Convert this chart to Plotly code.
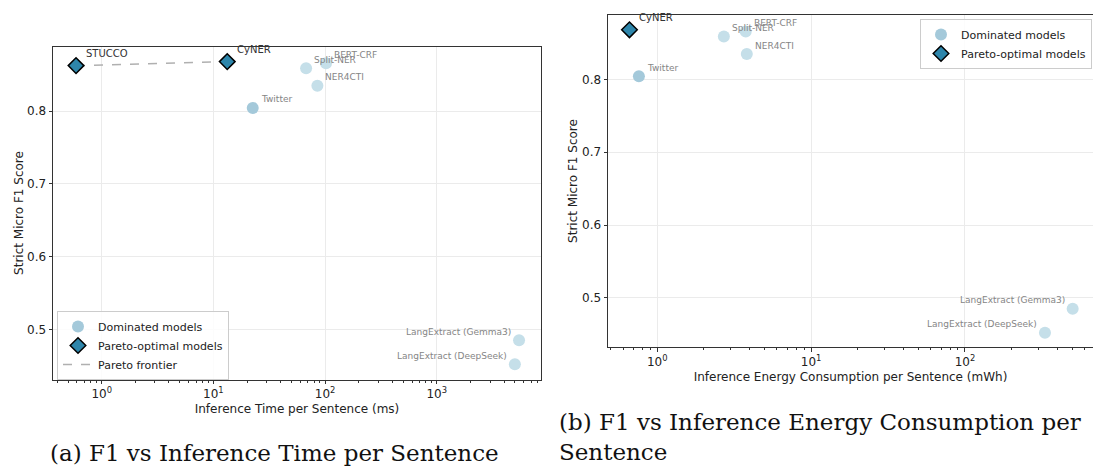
import numpy as np
import plotly.graph_objects as go

W, H = 1093, 466

# ---- data: F1 vs inference time (ms) ----
pareto_time_names = ["STUCCO", "CyNER"]
pareto_time_ms = [0.589, 13.3]
pareto_time_f1 = [0.8627, 0.8682]

dom_time_names = ["Twitter", "Split-NER", "BERT-CRF", "NER4CTI",
                  "LangExtract (Gemma3)", "LangExtract (DeepSeek)"]
dom_time_ms = [22.5, 67.6, 102.0, 85.3, 5450.0, 5000.0]
dom_time_f1 = [0.8045, 0.859, 0.866, 0.835, 0.485, 0.452]

# ---- data: F1 vs inference energy (mWh) ----
pareto_energy_names = ["CyNER"]
pareto_energy_mwh = [0.66]
pareto_energy_f1 = [0.8682]

dom_energy_names = ["Twitter", "Split-NER", "BERT-CRF", "NER4CTI",
                    "LangExtract (Gemma3)", "LangExtract (DeepSeek)"]
dom_energy_mwh = [0.76, 2.71, 3.76, 3.82, 501.0, 331.0]
dom_energy_f1 = [0.8045, 0.859, 0.866, 0.835, 0.485, 0.452]

# names drawn to the left of their marker
left_side_labels = {"LangExtract (Gemma3)", "LangExtract (DeepSeek)"}

# ---- styling ----
DOM_COLOR = "#c5dfe9"
DOM_STRONG = "#a4c9da"
PARETO_COLOR = "#2e86ab"
GRID = "#ebebeb"
SPINE = "#333333"
FONT = "DejaVu Sans"
AXIS_FONT = 12


def px_x(p):
    return p / W


def px_y(p):
    return 1 - p / H


fig = go.Figure()


def dom_colors(names):
    return [DOM_STRONG if n == "Twitter" else DOM_COLOR for n in names]


# left panel traces
fig.add_trace(go.Scatter(
    x=pareto_time_ms, y=pareto_time_f1, mode="lines",
    line=dict(color="#b0b0b0", width=1.5, dash="dash"),
    name="Pareto frontier", legend="legend", legendrank=3,
    xaxis="x", yaxis="y", hoverinfo="skip"))
fig.add_trace(go.Scatter(
    x=dom_time_ms, y=dom_time_f1, mode="markers", text=dom_time_names,
    marker=dict(size=12, color=dom_colors(dom_time_names), line=dict(width=0)),
    name="Dominated models", legend="legend", legendrank=1,
    xaxis="x", yaxis="y"))
fig.add_trace(go.Scatter(
    x=pareto_time_ms, y=pareto_time_f1, mode="markers", text=pareto_time_names,
    marker=dict(size=12, symbol="diamond", color=PARETO_COLOR,
                line=dict(width=1.5, color="black")),
    name="Pareto-optimal models", legend="legend", legendrank=2,
    xaxis="x", yaxis="y"))

# right panel traces
fig.add_trace(go.Scatter(
    x=dom_energy_mwh, y=dom_energy_f1, mode="markers", text=dom_energy_names,
    marker=dict(size=12, color=dom_colors(dom_energy_names), line=dict(width=0)),
    name="Dominated models", legend="legend2", legendrank=1,
    xaxis="x2", yaxis="y2"))
fig.add_trace(go.Scatter(
    x=pareto_energy_mwh, y=pareto_energy_f1, mode="markers", text=pareto_energy_names,
    marker=dict(size=12, symbol="diamond", color=PARETO_COLOR,
                line=dict(width=1.5, color="black")),
    name="Pareto-optimal models", legend="legend2", legendrank=2,
    xaxis="x2", yaxis="y2"))

annotations = []


def label_points(names, xs, ys, xref, yref, pareto):
    for n, xv, yv in zip(names, xs, ys):
        left = n in left_side_labels
        if pareto:
            dx, dy, size, color = 8, 12.5, 10, "#333333"
        else:
            dx, dy, size, color = 6, 8.5, 9, "#858585"
        annotations.append(dict(
            x=np.log10(xv), y=yv, xref=xref, yref=yref, text=n,
            showarrow=False, xanchor="right" if left else "left",
            yanchor="middle", xshift=-dx if left else dx, yshift=dy,
            font=dict(family=FONT, size=size, color=color)))


label_points(dom_time_names, dom_time_ms, dom_time_f1, "x", "y", False)
label_points(pareto_time_names, pareto_time_ms, pareto_time_f1, "x", "y", True)
label_points(dom_energy_names, dom_energy_mwh, dom_energy_f1, "x2", "y2", False)
label_points(pareto_energy_names, pareto_energy_mwh, pareto_energy_f1, "x2", "y2", True)

# sub-figure captions
CAPTION_FONT = dict(family="DejaVu Serif", size=23, color="#111111")
annotations.append(dict(
    x=px_x(48), y=px_y(453), xref="paper", yref="paper",
    text="(a) F1 vs Inference Time per Sentence", showarrow=False,
    xanchor="left", yanchor="middle", font=CAPTION_FONT))
annotations.append(dict(
    x=px_x(557), y=px_y(437), xref="paper", yref="paper",
    text="(b) F1 vs Inference Energy Consumption per<br>Sentence", showarrow=False,
    xanchor="left", yanchor="middle", align="left", font=CAPTION_FONT))


def minor_vals(lo, hi):
    vals = []
    for d in range(-2, 5):
        for k in range(2, 10):
            v = k * 10.0 ** d
            if lo <= v <= hi:
                vals.append(v)
    return vals


def log_axis(rng, majors, title, domain, anchor, standoff):
    return dict(
        type="log", range=rng, domain=domain, anchor=anchor,
        tickmode="array", tickvals=[10.0 ** m for m in majors],
        ticktext=[f"10<sup>{m}</sup>" for m in majors],
        ticks="outside", ticklen=3.5, tickwidth=0.8, tickcolor=SPINE,
        minor=dict(tickmode="array",
                   tickvals=minor_vals(10 ** rng[0], 10 ** rng[1]),
                   ticks="outside", ticklen=2, tickwidth=0.6,
                   tickcolor=SPINE, showgrid=False),
        showgrid=True, gridcolor=GRID, gridwidth=0.8,
        showline=True, linecolor=SPINE, linewidth=1,
        zeroline=False,
        tickfont=dict(family=FONT, size=AXIS_FONT, color="#222222"),
        title=dict(text=title, standoff=standoff,
                   font=dict(family=FONT, size=AXIS_FONT, color="#222222")),
    )


def f1_axis(rng, domain, anchor, standoff, mirror):
    return dict(
        range=rng, domain=domain, anchor=anchor,
        tickmode="array", tickvals=[0.5, 0.6, 0.7, 0.8],
        ticktext=["0.5", "0.6", "0.7", "0.8"],
        ticks="outside", ticklen=3.5, tickwidth=0.8, tickcolor=SPINE,
        showgrid=True, gridcolor=GRID, gridwidth=0.8,
        showline=True, linecolor=SPINE, linewidth=1, mirror=mirror,
        zeroline=False,
        tickfont=dict(family=FONT, size=AXIS_FONT, color="#222222"),
        title=dict(text="Strict Micro F1 Score", standoff=standoff,
                   font=dict(family=FONT, size=AXIS_FONT, color="#222222")),
    )


xa1 = log_axis([-0.436, 3.933], [0, 1, 2, 3], "Inference Time per Sentence (ms)",
               [px_x(53), px_x(541)], "y", 4)
xa1["mirror"] = True
xa2 = log_axis([-0.320, 2.832], [0, 1, 2],
               "Inference Energy Consumption per Sentence (mWh)",
               [px_x(608), 1.0], "y2", 4)
xa2["mirror"] = True

fig.update_layout(
    width=W, height=H,
    margin=dict(l=0, r=0, t=0, b=0),
    paper_bgcolor="white", plot_bgcolor="white",
    font=dict(family=FONT, color="#222222"),
    xaxis=xa1,
    yaxis=f1_axis([0.431, 0.889], [px_y(379.5), px_y(46.5)], "x", 0, True),
    xaxis2=xa2,
    yaxis2=f1_axis([0.432, 0.889], [px_y(347.3), px_y(14.7)], "x2", 1, False),
    legend=dict(
        x=px_x(57), y=px_y(311), xanchor="left", yanchor="top",
        bgcolor="rgba(255,255,255,0.85)", bordercolor="#cccccc", borderwidth=1,
        font=dict(family=FONT, size=11, color="#222222"),
        traceorder="normal", tracegroupgap=0, itemwidth=30),
    legend2=dict(
        x=px_x(1092), y=px_y(19), xanchor="right", yanchor="top",
        bgcolor="rgba(255,255,255,0.85)", bordercolor="#cccccc", borderwidth=1,
        font=dict(family=FONT, size=11, color="#222222"),
        traceorder="normal", tracegroupgap=0, itemwidth=30),
    annotations=annotations,
    showlegend=True,
)

fig.write_html("out.html")
